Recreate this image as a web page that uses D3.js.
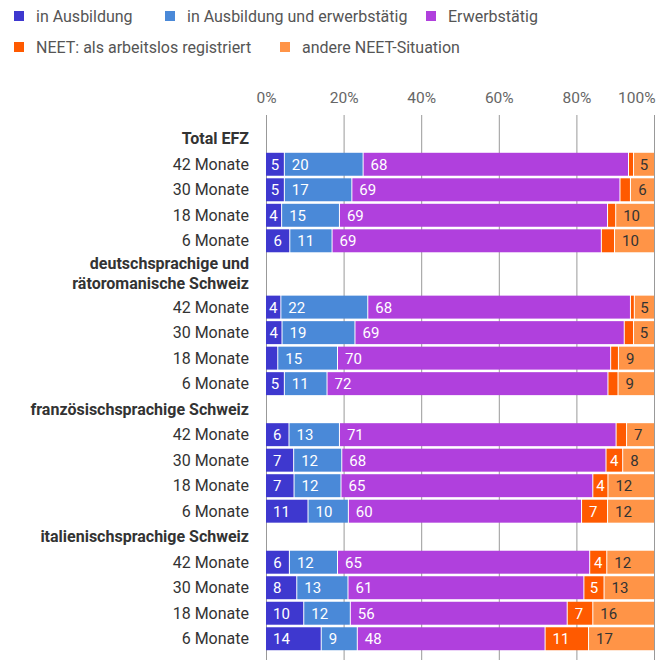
<!DOCTYPE html>
<html>
<head>
<meta charset="utf-8">
<script src="https://cdn.jsdelivr.net/npm/d3@7"></script>
<style>
  body { margin: 0; background: #fff; }
  svg { display: block; font-family: Roboto, sans-serif; }
</style>
</head>
<body>
<svg id="chart"></svg>
<script>
const width = 664,
  height = 660;

// categories (stack order) and colours
const categories = [
  "in Ausbildung",
  "in Ausbildung und erwerbstätig",
  "Erwerbstätig",
  "NEET: als arbeitslos registriert",
  "andere NEET-Situation"
];
const colors = ["#3e38cf", "#4a89d8", "#b040dd", "#ff5a00", "#ff9447"];
const labelColors = ["#fff", "#fff", "#fff", "#fff", "#333"];

const groups = [
  "Total EFZ",
  "deutschsprachige und\nrätoromanische Schweiz",
  "französischsprachige Schweiz",
  "italienischsprachige Schweiz"
];
const periods = ["42 Monate", "30 Monate", "18 Monate", "6 Monate"];
const ticks = [0, 20, 40, 60, 80, 100];

// shares in %, one row per period, one value per category
const totalEfz = [
  [4.6, 20.3, 68.4, 1.3, 5.4],
  [4.6, 17.4, 69.1, 2.7, 6.2],
  [3.9, 14.9, 69.1, 2.1, 10.0],
  [6.0, 10.9, 69.4, 3.4, 10.3]
];
const deutschRaetoromanisch = [
  [3.7, 22.4, 67.7, 1.0, 5.2],
  [4.0, 18.8, 69.4, 2.4, 5.4],
  [2.9, 15.4, 70.4, 2.0, 9.3],
  [4.6, 11.0, 72.4, 2.6, 9.4]
];
const franzoesisch = [
  [5.8, 13.0, 71.3, 2.7, 7.2],
  [7.0, 12.4, 68.1, 4.3, 8.2],
  [7.1, 12.1, 64.9, 3.9, 12.0],
  [10.7, 10.4, 60.1, 6.7, 12.1]
];
const italienisch = [
  [5.9, 12.4, 65.0, 4.4, 12.3],
  [7.8, 13.2, 60.8, 5.2, 13.0],
  [9.6, 12.0, 55.9, 6.6, 15.9],
  [14.1, 9.3, 48.4, 11.2, 17.0]
];
const groupValues = [totalEfz, deutschRaetoromanisch, franzoesisch, italienisch];

// build the row list: a header row per group, then one bar per period
const rows = [];
let units = 0;
groups.forEach((g, gi) => {
  const lines = g.split("\n");
  const size = lines.length > 1 ? 1.6 : 1;
  rows.push({ type: "header", lines: lines, start: units, size: size });
  units += size;
  periods.forEach((p, pi) => {
    rows.push({ type: "bar", label: p, values: groupValues[gi][pi], start: units, size: 1 });
    units += 1;
  });
});

const svg = d3.select("#chart").attr("width", width).attr("height", height);

const x = d3.scaleLinear().domain([0, 100]).range([266, 654]);
const y = d3.scaleLinear().domain([0, units]).range([126, 651.5]);
const slot = y(1) - y(0);
const barH = slot * 0.9;

// legend
const legendPos = [
  [14, 16], [165, 16], [426, 16],
  [14, 47], [280, 47]
];
const legend = svg.append("g").attr("class", "legend");
categories.forEach((c, i) => {
  const item = legend.append("g").attr("transform", `translate(${legendPos[i][0]},${legendPos[i][1]})`);
  item.append("rect").attr("x", 0).attr("y", -5).attr("width", 10).attr("height", 10).attr("fill", colors[i]);
  item.append("text")
    .attr("x", 22)
    .attr("y", 5.5)
    .attr("font-size", 16)
    .attr("fill", "#555")
    .text(c);
});

// axis with grid lines
const axis = svg
  .append("g")
  .attr("transform", "translate(0,115)")
  .call(
    d3.axisTop(x)
      .tickValues(ticks)
      .tickFormat(d => d + "%")
      .tickSize(-(height - 115))
      .tickPadding(12)
  );
axis.select(".domain").remove();
axis.selectAll(".tick line").attr("stroke", "#999");
axis.selectAll(".tick text")
  .attr("font-size", 15.5)
  .attr("font-family", "Roboto, sans-serif")
  .attr("fill", "#666")
  .attr("text-anchor", d => (d === 100 ? "end" : "middle"))
  .attr("dx", d => (d === 100 ? 1 : 0));

// row labels
const labelX = 249;
rows.forEach(r => {
  const cy = y(r.start + r.size / 2);
  if (r.type === "header") {
    const n = r.lines.length;
    r.lines.forEach((l, li) => {
      svg.append("text")
        .attr("x", labelX)
        .attr("y", cy + (li - (n - 1) / 2) * 20 + 5.5)
        .attr("text-anchor", "end")
        .attr("font-size", 16)
        .attr("font-weight", "bold")
        .attr("fill", "#333")
        .text(l);
    });
  } else {
    svg.append("text")
      .attr("x", labelX)
      .attr("y", cy + 5.5)
      .attr("text-anchor", "end")
      .attr("font-size", 16)
      .attr("fill", "#333")
      .text(r.label);
  }
});

// stacked bars
const barRows = rows.filter(r => r.type === "bar");
const stack = d3.stack().keys(d3.range(categories.length));
const series = stack(barRows.map(r => r.values));

const measure = svg.append("text").attr("font-size", 15).attr("visibility", "hidden");
const textWidth = t => {
  measure.text(t);
  return measure.node().getComputedTextLength();
};

series.forEach((s, k) => {
  s.forEach((seg, i) => {
    const r = barRows[i];
    const cy = y(r.start + r.size / 2);
    const x0 = x(seg[0]),
      x1 = x(seg[1]);
    const gap = k > 0 ? 1 : 0;
    svg.append("rect")
      .attr("x", x0 + gap)
      .attr("y", cy - barH / 2)
      .attr("width", Math.max(0, x1 - x0 - gap))
      .attr("height", barH)
      .attr("fill", colors[k]);

    const label = String(Math.round(seg[1] - seg[0]));
    const w = x1 - x0;
    const tw = textWidth(label);
    if (w < tw + 5) return;
    const fits = w >= tw + 16;
    svg.append("text")
      .attr("x", fits ? x0 + gap + 7 : (x0 + gap + x1) / 2)
      .attr("y", cy + 5.5)
      .attr("text-anchor", fits ? "start" : "middle")
      .attr("font-size", 15)
      .attr("fill", labelColors[k])
      .text(label);
  });
});
measure.remove();
</script>
</body>
</html>
